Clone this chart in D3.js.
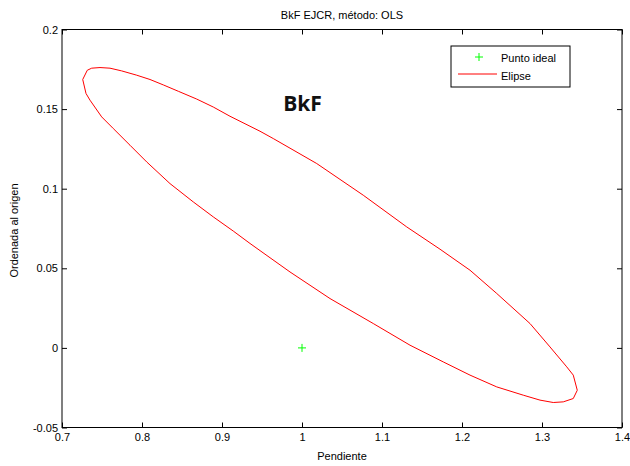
<!DOCTYPE html>
<html>
<head>
<meta charset="utf-8">
<script src="https://cdn.jsdelivr.net/npm/d3@7"></script>
<style>
  body { margin: 0; background: #fff; }
  svg { display: block; }
  text { font-family: "Liberation Sans", Arial, sans-serif; }
</style>
</head>
<body>
<svg id="chart" width="630" height="466"></svg>
<script>
// ---- Data ----
const title = "BkF EJCR, método: OLS";
const xLabel = "Pendiente";
const yLabel = "Ordenada al origen";
const annotation = "BkF";
const xTicks = [0.7, 0.8, 0.9, 1.0, 1.1, 1.2, 1.3, 1.4];
const yTicks = [-0.05, 0, 0.05, 0.1, 0.15, 0.2];
const idealPoint = [1.0, 0.0];
const ellipseSlope = [0.7259, 0.7316, 0.7371, 0.7475, 0.7600, 0.7746, 0.7934, 0.8100, 0.8266, 0.8454, 0.8684, 0.8891, 0.9100, 0.9475, 0.9641, 1.0184, 1.0766, 1.1309, 1.1725, 1.2100, 1.2434, 1.2850, 1.3100, 1.3309, 1.3391, 1.3441, 1.3391, 1.3266, 1.3141, 1.2975, 1.2766, 1.2434, 1.2100, 1.1766, 1.1350, 1.0891, 1.0350, 0.9850, 0.9350, 0.9141, 0.8891, 0.8641, 0.8350, 0.8059, 0.7850, 0.7641, 0.7496, 0.7350, 0.7300];
const ellipseIntercept = [0.1686, 0.1744, 0.1757, 0.1761, 0.1757, 0.1740, 0.1713, 0.1686, 0.1652, 0.1612, 0.1563, 0.1513, 0.1455, 0.1361, 0.1315, 0.1158, 0.0959, 0.0760, 0.0620, 0.0488, 0.0342, 0.0153, 0.0006, -0.0119, -0.0171, -0.0266, -0.0318, -0.0339, -0.0343, -0.0328, -0.0297, -0.0245, -0.0171, -0.0088, 0.0017, 0.0153, 0.0310, 0.0477, 0.0656, 0.0734, 0.0823, 0.0917, 0.1032, 0.1168, 0.1273, 0.1378, 0.1451, 0.1556, 0.1598];
const legendLabels = ["Punto ideal", "Elipse"];

// ---- Layout ----
const svg = d3.select("#chart");
const L = 62, R = 622, T = 29.5, B = 427.5;
const x = d3.scaleLinear().domain([0.7, 1.4]).range([L, R]);
const y = d3.scaleLinear().domain([-0.05, 0.2]).range([B, T]);
const fmt = d => String(+d.toFixed(2));

// axes (ticks inward, MATLAB style)
const gB = svg.append("g").attr("transform", `translate(0,${B})`)
  .call(d3.axisBottom(x).tickValues(xTicks).tickSize(-5).tickPadding(6).tickFormat(fmt));
const gT = svg.append("g").attr("transform", `translate(0,${T})`)
  .call(d3.axisTop(x).tickValues(xTicks).tickSize(-5).tickFormat(""));
const gL = svg.append("g").attr("transform", `translate(${L},0)`)
  .call(d3.axisLeft(y).tickValues(yTicks).tickSize(-5).tickPadding(4).tickFormat(fmt));
const gR = svg.append("g").attr("transform", `translate(${R},0)`)
  .call(d3.axisRight(y).tickValues(yTicks).tickSize(-5).tickFormat(""));
[gB, gT, gL, gR].forEach(g => {
  g.select(".domain").remove();
  g.selectAll("line").attr("stroke", "#000");
  g.selectAll("text").attr("fill", "#000").style("font-size", "11px")
    .style("font-family", "'Liberation Sans', Arial, sans-serif");
});
svg.append("rect").attr("x", L).attr("y", T).attr("width", R - L).attr("height", B - T)
  .attr("fill", "none").attr("stroke", "#000").attr("stroke-width", 1);

// ellipse
const pts = ellipseSlope.map((s, i) => [s, ellipseIntercept[i]]);
svg.append("path")
  .attr("d", d3.line().x(d => x(d[0])).y(d => y(d[1])).curve(d3.curveLinearClosed)(pts))
  .attr("fill", "none").attr("stroke", "#ff0000").attr("stroke-width", 1);

// ideal point
const plus = (g, cx, cy, r) => {
  g.append("line").attr("x1", cx - r).attr("x2", cx + r).attr("y1", cy).attr("y2", cy)
    .attr("stroke", "#00ff00").attr("stroke-width", 1);
  g.append("line").attr("x1", cx).attr("x2", cx).attr("y1", cy - r).attr("y2", cy + r)
    .attr("stroke", "#00ff00").attr("stroke-width", 1);
};
plus(svg, x(idealPoint[0]), y(idealPoint[1]), 4);

// annotation
svg.append("text").attr("x", x(0.9765)).attr("y", 111).text(annotation)
  .style("font-family", "'Open Sans', 'Liberation Sans', sans-serif")
  .style("font-weight", "bold").style("font-size", "21px").attr("fill", "#111");

// title & labels
svg.append("text").attr("x", (L + R) / 2).attr("y", 19).attr("text-anchor", "middle")
  .style("font-size", "11px").text(title);
svg.append("text").attr("x", (L + R) / 2).attr("y", 460).attr("text-anchor", "middle")
  .style("font-size", "11px").text(xLabel);
svg.append("text").attr("transform", `translate(18,${(T + B) / 2 + 2}) rotate(-90)`)
  .attr("text-anchor", "middle").style("font-size", "11px").text(yLabel);

// legend
const lg = svg.append("g");
lg.append("rect").attr("x", 451).attr("y", 46).attr("width", 119).attr("height", 41)
  .attr("fill", "#fff").attr("stroke", "#000").attr("stroke-width", 1);
plus(lg, 479, 57, 4);
lg.append("line").attr("x1", 458).attr("x2", 497).attr("y1", 74).attr("y2", 74)
  .attr("stroke", "#ff0000").attr("stroke-width", 1);
lg.selectAll("text.lab").data(legendLabels).join("text").attr("class", "lab")
  .attr("x", 501).attr("y", (d, i) => 61.5 + i * 18).style("font-size", "11px").text(d => d);
</script>
</body>
</html>
